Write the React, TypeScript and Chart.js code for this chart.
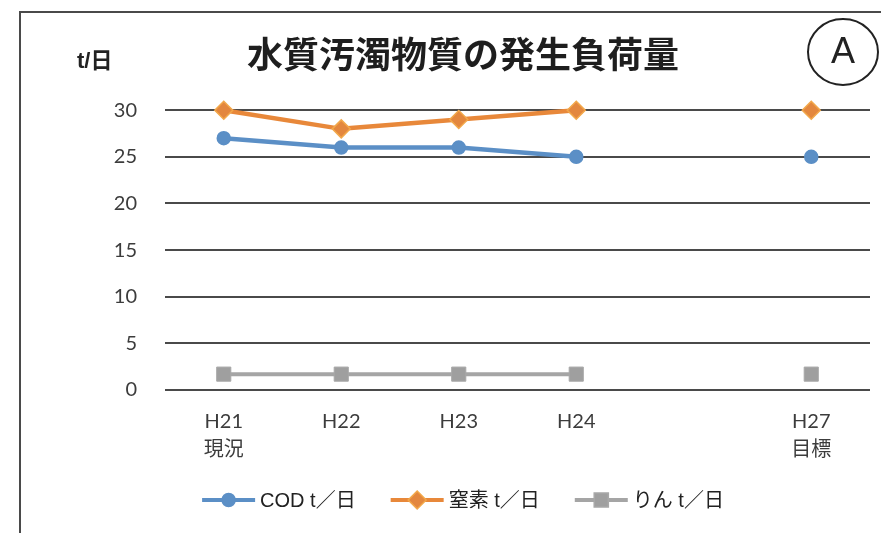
import React, { useEffect, useRef } from "react";
import { Chart, registerables } from "chart.js";

Chart.register(...registerables);

const categories: (string | string[])[] = [["H21", "現況"], "H22", "H23", "H24", "", ["H27", "目標"]];
const codValues = [27, 26, 26, 25, null, 25];
const nitrogenValues = [30, 28, 29, 30, null, 30];
const phosphorusValues = [1.7, 1.7, 1.7, 1.7, null, 1.7];
const seriesLabels = ["COD t／日", "窒素 t／日", "りん t／日"];
const yTickValues = [0, 5, 10, 15, 20, 25, 30];
const titleText = "水質汚濁物質の発生負荷量";
const unitLabel = "t/日";
const badgeText = "A";

const BLUE = "#5b8fc6";
const ORANGE = "#e8883a";
const GRAY = "#a5a5a5";

function drawMarker(ctx: CanvasRenderingContext2D, style: string, x: number, y: number, r: number, fill: string, stroke: string) {
  ctx.save();
  ctx.fillStyle = fill;
  ctx.strokeStyle = stroke;
  ctx.lineWidth = 1.5;
  ctx.beginPath();
  if (style === "circle") {
    ctx.arc(x, y, r, 0, Math.PI * 2);
  } else if (style === "rectRot") {
    ctx.moveTo(x, y - r);
    ctx.lineTo(x + r, y);
    ctx.lineTo(x, y + r);
    ctx.lineTo(x - r, y);
    ctx.closePath();
  } else {
    const h = r * Math.SQRT1_2;
    ctx.rect(x - h, y - h, 2 * h, 2 * h);
  }
  ctx.fill();
  ctx.stroke();
  ctx.restore();
}

const decorPlugin = {
  id: "decor",
  beforeDraw(chart: any) {
    const ctx = chart.ctx as CanvasRenderingContext2D;
    ctx.save();
    ctx.fillStyle = "#ffffff";
    ctx.fillRect(0, 0, chart.width, chart.height);
    ctx.strokeStyle = "#4a4a4a";
    ctx.lineWidth = 2;
    ctx.strokeRect(20, 12, chart.width + 40, chart.height + 40);
    ctx.restore();
  },
  afterDraw(chart: any) {
    const ctx = chart.ctx as CanvasRenderingContext2D;
    ctx.save();
    // unit label
    ctx.fillStyle = "#222";
    ctx.font = 'bold 22px "Liberation Sans", "Noto Sans CJK JP", sans-serif';
    ctx.textAlign = "left";
    ctx.textBaseline = "middle";
    ctx.fillText(unitLabel, 77, 62);
    // badge
    ctx.beginPath();
    ctx.ellipse(843, 52, 35, 33, 0, 0, Math.PI * 2);
    ctx.lineWidth = 2;
    ctx.strokeStyle = "#222";
    ctx.stroke();
    ctx.font = '36px "Liberation Sans", sans-serif';
    ctx.textAlign = "center";
    ctx.fillText(badgeText, 843, 53);

    // legend
    const ds = chart.data.datasets;
    ctx.font = '20px "Liberation Sans", "Noto Sans CJK JP", sans-serif';
    const lineW = 53;
    const gapText = 5;
    const gapItem = 35;
    const widths = ds.map((d: any) => lineW + gapText + ctx.measureText(d.label).width);
    const total = widths.reduce((a: number, b: number) => a + b, 0) + gapItem * (ds.length - 1);
    let x = 463 - total / 2;
    const y = 500;
    ds.forEach((d: any, i: number) => {
      ctx.beginPath();
      ctx.moveTo(x, y);
      ctx.lineTo(x + lineW, y);
      ctx.strokeStyle = d.borderColor;
      ctx.lineWidth = 4;
      ctx.stroke();
      drawMarker(ctx, d.pointStyle, x + lineW / 2, y, d.pointRadius, d.pointBackgroundColor, d.pointBorderColor);
      ctx.fillStyle = "#222";
      ctx.textAlign = "left";
      ctx.textBaseline = "middle";
      ctx.fillText(d.label, x + lineW + gapText, y + 1);
      x += widths[i] + gapItem;
    });
    ctx.restore();
  },
};

export default function App() {
  const ref = useRef<HTMLCanvasElement>(null);
  useEffect(() => {
    if (!ref.current) return;
    const chart = new Chart(ref.current, {
      type: "line",
      data: {
        labels: categories,
        datasets: [
          {
            label: seriesLabels[0],
            data: codValues,
            borderColor: BLUE,
            backgroundColor: BLUE,
            borderWidth: 4.5,
            pointStyle: "circle",
            pointRadius: 6.5,
            pointBackgroundColor: BLUE,
            pointBorderColor: BLUE,
            pointBorderWidth: 1.5,
            spanGaps: false,
            clip: false,
          },
          {
            label: seriesLabels[1],
            data: nitrogenValues,
            borderColor: ORANGE,
            backgroundColor: ORANGE,
            borderWidth: 4.5,
            pointStyle: "rectRot",
            pointRadius: 9,
            pointBackgroundColor: "#e3873e",
            pointBorderColor: "#f2a84a",
            pointBorderWidth: 1.5,
            spanGaps: false,
            clip: false,
          },
          {
            label: seriesLabels[2],
            data: phosphorusValues,
            borderColor: GRAY,
            backgroundColor: GRAY,
            borderWidth: 4,
            pointStyle: "rect",
            pointRadius: 10,
            pointBackgroundColor: "#9f9f9f",
            pointBorderColor: "#a8a8a8",
            pointBorderWidth: 1,
            spanGaps: false,
            clip: false,
          },
        ] as any,
      },
      options: {
        responsive: false,
        animation: false,
        layout: { padding: { left: 53, right: 8, top: 33, bottom: 72 } },
        plugins: {
          legend: { display: false },
          tooltip: { enabled: false },
          title: {
            display: true,
            text: titleText,
            color: "#1e1e1e",
            font: { size: 36, weight: "bold", family: '"Noto Sans CJK JP", sans-serif', lineHeight: 1.2 },
            padding: { top: 0, bottom: 34 },
          },
        },
        scales: {
          x: {
            type: "category",
            offset: true,
            grid: { display: false },
            border: { display: false },
            afterFit: (s: any) => { s.height = 71; },
            ticks: {
              color: "#3c3c3c",
              font: { size: 20, family: 'Lato, "Noto Sans CJK JP", sans-serif', lineHeight: 1.38 },
              padding: 10,
              maxRotation: 0,
              autoSkip: false,
            },
          },
          y: {
            min: yTickValues[0],
            max: yTickValues[yTickValues.length - 1],
            afterFit: (s: any) => { s.width = 112; },
            afterBuildTicks: (s: any) => { s.ticks = yTickValues.map((v) => ({ value: v })); },
            grid: { color: "#4a4a4a", lineWidth: 2, drawTicks: false },
            border: { display: false },
            ticks: {
              color: "#3c3c3c",
              font: { size: 20, family: 'Lato, sans-serif' },
              padding: 28,
            },
          },
        },
      },
      plugins: [decorPlugin],
    });
    return () => chart.destroy();
  }, []);
  return (
    <div style={{ position: "absolute", left: 0, top: 0, width: 881, height: 533 }}>
      <canvas ref={ref} width={881} height={533} style={{ display: "block" }} />
    </div>
  );
}
